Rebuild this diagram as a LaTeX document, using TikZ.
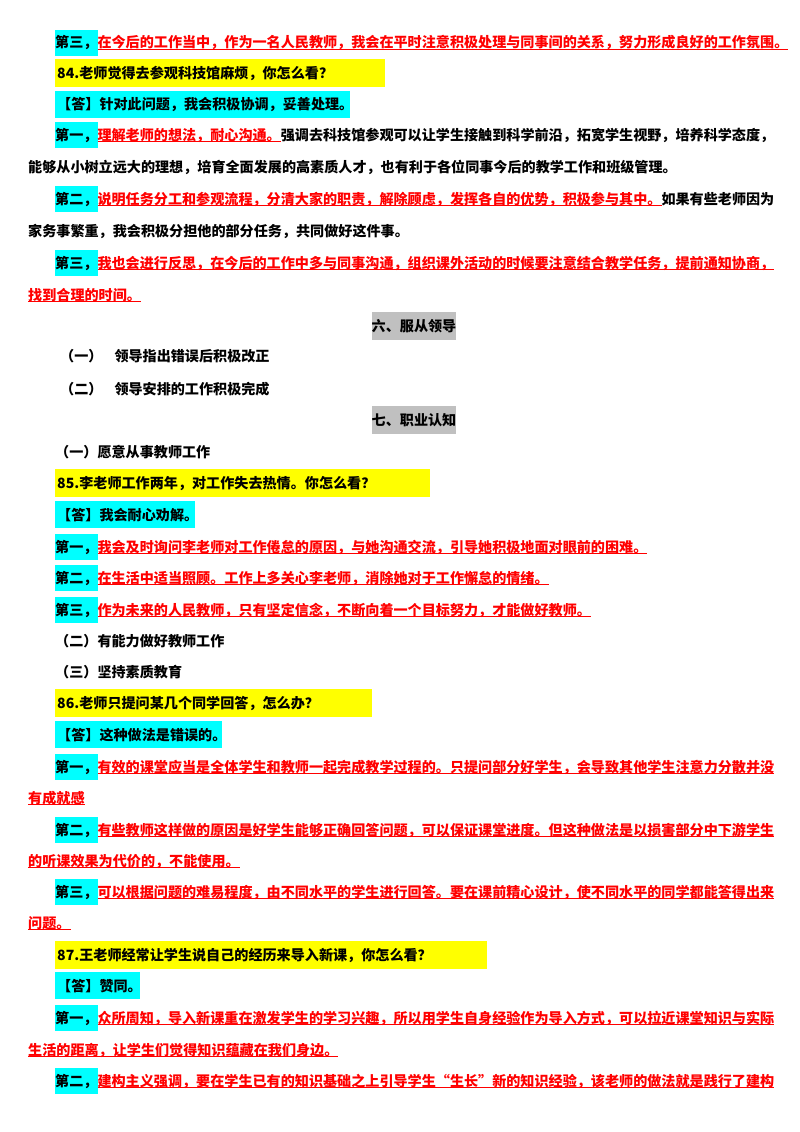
\documentclass[tikz,border=0pt]{standalone}
\usepackage{fontspec}
\newfontfamily\cjk{Noto Sans CJK SC}
\definecolor{cyanbg}{HTML}{00FFFF}
\definecolor{yellowbg}{HTML}{FFFF00}
\definecolor{graybg}{HTML}{C0C0C0}
\definecolor{redtxt}{HTML}{FF0000}
\newcommand{\cy}[1]{{\setlength\fboxsep{0pt}\colorbox{cyanbg}{\rule[-8pt]{0pt}{26pt}#1}}}
\newcommand{\rd}[1]{\textcolor{redtxt}{\underline{\smash{#1}}}}
\begin{document}
\begin{tikzpicture}[x=1pt,y=-1pt,
  txt/.style={anchor=base west, inner sep=0pt, font=\cjk\bfseries\fontsize{14.1}{14.1}\selectfont},
  band/.style={anchor=north west, inner sep=0pt, minimum height=28pt},
  sect/.style={fill=graybg, inner sep=0pt, minimum width=84pt, minimum height=28pt, font=\cjk\bfseries\fontsize{14.1}{14.1}\selectfont}]
\fill[white] (0,0) rectangle (800,1132);
\useasboundingbox (0,0) rectangle (800,1132);
% background bands
\node[band, fill=yellowbg, minimum width=330pt] (b84) at (55,59) {};
\node[band, fill=cyanbg, minimum width=295pt, minimum height=27pt] (a84) at (55,91) {};
\node[band, fill=yellowbg, minimum width=375pt] (b85) at (55,469) {};
\node[band, fill=cyanbg, minimum width=140pt, minimum height=27pt] (a85) at (55,501) {};
\node[band, fill=yellowbg, minimum width=317pt] (b86) at (55,689) {};
\node[band, fill=cyanbg, minimum width=167pt, minimum height=27pt] (a86) at (55,721) {};
\node[band, fill=yellowbg, minimum width=432pt] (b87) at (55,941) {};
\node[band, fill=cyanbg, minimum width=85pt, minimum height=27pt] (a87) at (55,972) {};

\node[txt] (l1) at (55,48) {\cy{第三，}\rd{在今后的工作当中，作为一名人民教师，我会在平时注意积极处理与同事间的关系，努力形成良好的工作氛围。}};
\node[txt] (l2) at (57,78) {84.老师觉得去参观科技馆麻烦，你怎么看？};
\node[txt] (l3) at (57,109) {【答】针对此问题，我会积极协调，妥善处理。};
\node[txt] (l4) at (55,140) {\cy{第一，}\rd{理解老师的想法，耐心沟通。}强调去科技馆参观可以让学生接触到科学前沿，拓宽学生视野，培养科学态度，};
\node[txt] (l5) at (28,172) {能够从小树立远大的理想，培育全面发展的高素质人才，也有利于各位同事今后的教学工作和班级管理。};
\node[txt] (l6) at (55,204) {\cy{第二，}\rd{说明任务分工和参观流程，分清大家的职责，解除顾虑，发挥各自的优势，积极参与其中。}如果有些老师因为};
\node[txt] (l7) at (28,236) {家务事繁重，我会积极分担他的部分任务，共同做好这件事。};
\node[txt] (l8) at (55,268) {\cy{第三，}\rd{我也会进行反思，在今后的工作中多与同事沟通，组织课外活动的时候要注意结合教学任务，提前通知协商，}};
\node[txt] (l9) at (28,300) {\rd{找到合理的时间。}};
\node[sect] (s6) at (414,326) {六、服从领导};
\node[txt] (l11) at (60,361) {（一）\hspace{12pt}领导指出错误后积极改正};
\node[txt] (l12) at (60,394) {（二）\hspace{12pt}领导安排的工作积极完成};
\node[sect] (s7) at (414,420) {七、职业认知};
\node[txt] (l14) at (55,457) {（一）愿意从事教师工作};
\node[txt] (l15) at (57,488) {85.李老师工作两年，对工作失去热情。你怎么看？};
\node[txt] (l16) at (57,520) {【答】我会耐心劝解。};
\node[txt] (l17) at (55,552) {\cy{第一，}\rd{我会及时询问李老师对工作倦怠的原因，与她沟通交流，引导她积极地面对眼前的困难。}};
\node[txt] (l18) at (55,583) {\cy{第二，}\rd{在生活中适当照顾。工作上多关心李老师，消除她对于工作懈怠的情绪。}};
\node[txt] (l19) at (55,615) {\cy{第三，}\rd{作为未来的人民教师，只有坚定信念，不断向着一个目标努力，才能做好教师。}};
\node[txt] (l20) at (55,646) {（二）有能力做好教师工作};
\node[txt] (l21) at (55,677) {（三）坚持素质教育};
\node[txt] (l22) at (57,708) {86.老师只提问某几个同学回答，怎么办？};
\node[txt] (l23) at (57,740) {【答】这种做法是错误的。};
\node[txt] (l24) at (55,772) {\cy{第一，}\rd{有效的课堂应当是全体学生和教师一起完成教学过程的。只提问部分好学生，会导致其他学生注意力分散并没}};
\node[txt] (l25) at (28,803) {\rd{有成就感}};
\node[txt] (l26) at (55,835) {\cy{第二，}\rd{有些教师这样做的原因是好学生能够正确回答问题，可以保证课堂进度。但这种做法是以损害部分中下游学生}};
\node[txt] (l27) at (28,866) {\rd{的听课效果为代价的，不能使用。}};
\node[txt] (l28) at (55,897) {\cy{第三，}\rd{可以根据问题的难易程度，由不同水平的学生进行回答。要在课前精心设计，使不同水平的同学都能答得出来}};
\node[txt] (l29) at (28,928) {\rd{问题。}};
\node[txt] (l30) at (57,960) {87.王老师经常让学生说自己的经历来导入新课，你怎么看？};
\node[txt] (l31) at (57,991) {【答】赞同。};
\node[txt] (l32) at (55,1023) {\cy{第一，}\rd{众所周知，导入新课重在激发学生的学习兴趣，所以用学生自身经验作为导入方式，可以拉近课堂知识与实际}};
\node[txt] (l33) at (28,1055) {\rd{生活的距离，让学生们觉得知识蕴藏在我们身边。}};
\node[txt] (l34) at (55,1086) {\cy{第二，}\rd{建构主义强调，要在学生已有的知识基础之上引导学生“生长”新的知识经验，该老师的做法就是践行了建构}};
\end{tikzpicture}
\end{document}
